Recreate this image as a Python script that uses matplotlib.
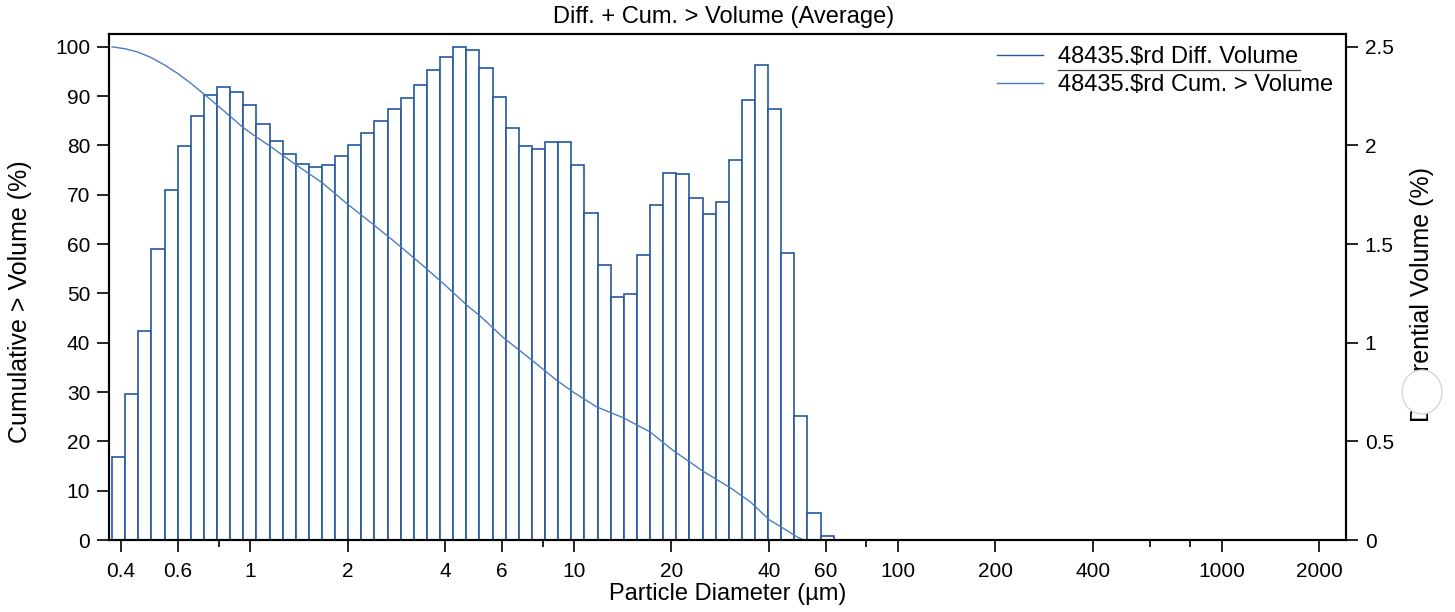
import matplotlib
matplotlib.use("Agg")
import matplotlib.pyplot as plt
from matplotlib.lines import Line2D
from matplotlib.patches import Ellipse
from matplotlib.ticker import FixedLocator, FixedFormatter, NullLocator

plt.rcParams['font.family'] = ['Liberation Sans', 'DejaVu Sans']

# Channel edges (µm)
bin_edges = [0.375, 0.412, 0.452, 0.496, 0.545, 0.598, 0.657, 0.721, 0.791, 0.869,
             0.953, 1.047, 1.149, 1.261, 1.385, 1.520, 1.669, 1.832, 2.010, 2.207,
             2.423, 2.660, 2.920, 3.205, 3.519, 3.863, 4.240, 4.655, 5.110, 5.610,
             6.158, 6.760, 7.421, 8.147, 8.943, 9.817, 10.78, 11.83, 12.99, 14.26,
             15.65, 17.18, 18.86, 20.70, 22.73, 24.95, 27.39, 30.07, 33.01, 36.24,
             39.78, 43.67, 47.94, 52.62, 57.77, 63.41]

# Differential volume (%)
diff_volume = [0.420, 0.738, 1.058, 1.473, 1.775, 1.998, 2.148, 2.255, 2.298, 2.273,
               2.203, 2.110, 2.025, 1.958, 1.908, 1.890, 1.903, 1.945, 2.000, 2.065,
               2.125, 2.183, 2.243, 2.308, 2.380, 2.450, 2.500, 2.485, 2.395, 2.245,
               2.090, 1.995, 1.980, 2.015, 2.015, 1.900, 1.660, 1.393, 1.233, 1.245,
               1.443, 1.698, 1.858, 1.853, 1.733, 1.653, 1.713, 1.925, 2.230, 2.410,
               2.185, 1.453, 0.628, 0.135, 0.018]

# Cumulative > volume (%)
cum_x = [0.375, 0.412, 0.452, 0.496, 0.545, 0.598, 0.657, 0.721, 0.791, 0.869,
         0.953, 1.047, 1.145, 1.385, 1.674, 2.0, 2.39, 2.89, 3.41, 4.0, 4.71,
         5.12, 6.04, 7.31, 8.84, 10.0, 11.75, 14.2, 17.2, 20.2, 25.1, 30.4,
         35.1, 40.1, 44.5, 48.9, 51.2, 63.41]
cum_y = [100.0, 99.6, 98.9, 97.8, 96.3, 94.6, 92.6, 90.4, 88.2, 85.9,
         83.6, 81.7, 80.0, 76.1, 72.4, 68.1, 64.1, 59.7, 55.7, 51.7, 47.4,
         45.5, 41.1, 36.8, 32.4, 29.9, 27.0, 24.8, 21.9, 18.2, 13.9, 10.6,
         7.7, 4.1, 2.3, 0.6, 0.0, 0.0]

xtick_vals = [0.4, 0.6, 0.8, 1, 2, 4, 6, 8, 10, 20, 40, 60, 80, 100, 200, 400, 600, 800, 1000, 2000]
xtick_labels = ['0.4', '0.6', '', '1', '2', '4', '6', '', '10', '20', '40', '60', '', '100',
                '200', '400', '', '', '1000', '2000']
left_ticks = [0, 10, 20, 30, 40, 50, 60, 70, 80, 90, 100]
right_ticks = [0, 0.5, 1, 1.5, 2, 2.5]
right_tick_labels = ['0', '0.5', '1', '1.5', '2', '2.5']

W, H = 1455, 612
fig = plt.figure(figsize=(W / 100, H / 100), dpi=100)
AX_L, AX_R, AX_T, AX_B = 109, 1346, 34, 540
ax = fig.add_axes([AX_L / W, 1 - AX_B / H, (AX_R - AX_L) / W, (AX_B - AX_T) / H])
ax2 = ax.twinx()

bar_color = '#25579f'
line_color = '#4b7cc0'
tick_fs = 15
lab_fs = 17
ylab_fs = 18

lefts = bin_edges[:-1]
widths = [b - a for a, b in zip(bin_edges[:-1], bin_edges[1:])]
ax2.bar(lefts, diff_volume, width=widths, align='edge', facecolor='white',
        edgecolor=bar_color, linewidth=1.2)

ax.plot(cum_x, cum_y, color=line_color, linewidth=1.0)
ax.set_zorder(ax2.get_zorder() + 1)
ax.patch.set_visible(False)

ax.set_xscale('log')
ax.set_xlim(0.367, 2420)
ytop = 102.6
ax.set_ylim(0, ytop)
ax2.set_ylim(0, ytop / 40)

ax.xaxis.set_major_locator(FixedLocator(xtick_vals))
ax.xaxis.set_major_formatter(FixedFormatter(xtick_labels))
ax.xaxis.set_minor_locator(NullLocator())
ax.set_yticks(left_ticks)
ax2.set_yticks(right_ticks)
ax2.set_yticklabels(right_tick_labels)

for a in (ax, ax2):
    a.tick_params(axis='both', direction='out', length=8.5, width=1.2,
                  labelsize=tick_fs, pad=5, color='black')
    a.tick_params(axis='x', pad=7)
    for s in a.spines.values():
        s.set_linewidth(1.5)
        s.set_color('black')

# shorter ticks for unlabeled x positions
for t, lab in zip(ax.xaxis.get_major_ticks(), xtick_labels):
    if lab == '':
        t.tick1line.set_markersize(5)

ax.set_xlabel('Particle Diameter (µm)', fontsize=lab_fs)
ax.xaxis.label.set_verticalalignment('center')
ax.xaxis.set_label_coords(0.5, (AX_B - 594) / (AX_B - AX_T))

ax.set_ylabel('Cumulative > Volume (%)', fontsize=ylab_fs)
ax.yaxis.label.set_verticalalignment('center')
ax.yaxis.set_label_coords((20 - AX_L) / (AX_R - AX_L), (AX_B - 302) / (AX_B - AX_T))

ax2.set_ylabel('Differential Volume (%)', fontsize=ylab_fs)
ax2.yaxis.label.set_verticalalignment('center')
ax2.yaxis.set_label_coords((1422 - AX_L) / (AX_R - AX_L), (AX_B - 294) / (AX_B - AX_T))

fig.text(724 / W, 1 - 17 / H, 'Diff. + Cum. > Volume (Average)', ha='center', va='center',
         fontsize=lab_fs)

# legend
h1 = Line2D([], [], color=bar_color, linewidth=1.0)
h2 = Line2D([], [], color=line_color, linewidth=1.0)
leg = ax.legend([h1, h2], ['48435.$rd Diff. Volume', '48435.$rd Cum. > Volume'],
                loc='upper left', bbox_to_anchor=(997 / W, 1 - 46 / H),
                bbox_transform=fig.transFigure, frameon=False, fontsize=lab_fs,
                handlelength=1.95, handletextpad=0.64, labelspacing=0.25,
                borderpad=0, borderaxespad=0)
fig.add_artist(Line2D([1058 / W, 1300 / W], [1 - 70 / H, 1 - 70 / H],
                      transform=fig.transFigure, color='#444444', linewidth=0.9))

# blot over the right label
fig.add_artist(Ellipse((1422 / W, 1 - 392 / H), 40 / W, 44 / H, transform=fig.transFigure,
                       facecolor='white', edgecolor='#d5d5d5', linewidth=1.0, zorder=10))

fig.savefig('out.png', dpi=100)
